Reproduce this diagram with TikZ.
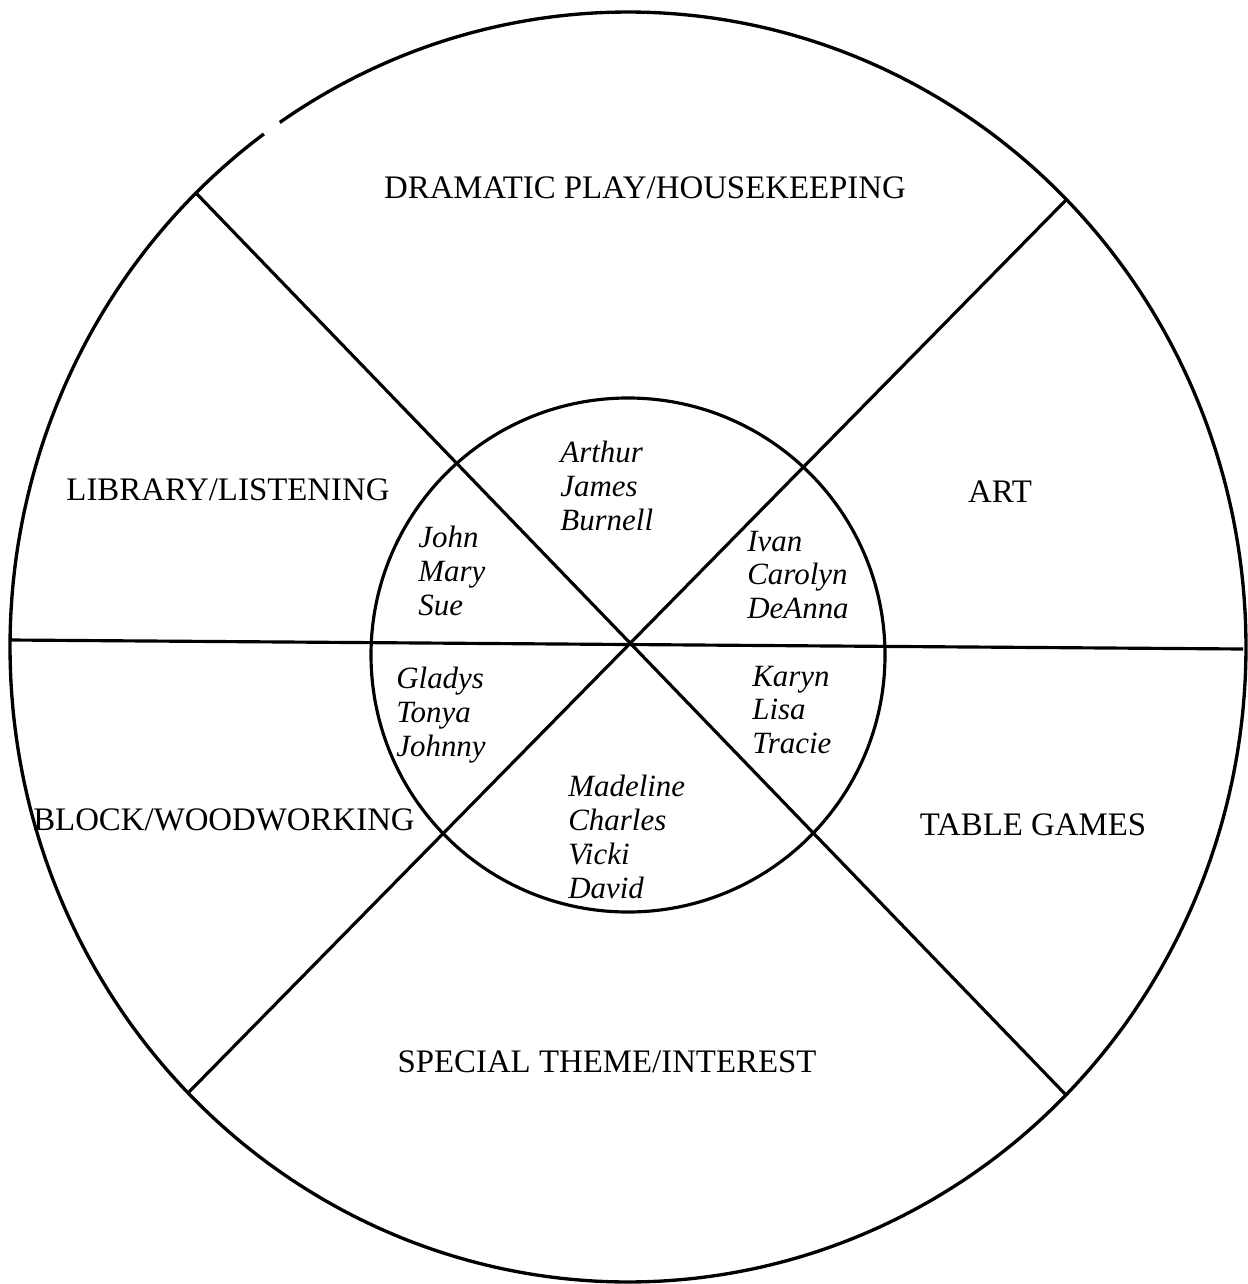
\documentclass[tikz,border=0pt]{standalone}
\usepackage{fontspec}
\setmainfont{Liberation Serif}
\begin{document}
\begin{tikzpicture}[x=0.02cm,y=-0.02cm,
  rim/.style={line width=1.9pt},
  divider/.style={line width=1.8pt},
  area/.style={inner sep=0pt,font=\fontsize{18.7}{22}\selectfont},
  names/.style={inner sep=0pt,anchor=west,align=left,font=\fontsize{17.6}{19.3}\selectfont\itshape}]
\useasboundingbox (0,0) rectangle (1247,1284);
% outer ring (with the small gap at upper left)
\draw[rim] plot[domain=-124.3:233.9,samples=240,smooth] ({628+618*cos(\x)},{647+635*sin(\x)});
% inner circle
\node[draw,circle,line width=1.8pt,minimum size=514*0.02cm,inner sep=0pt] (hub) at (628,655) {};
% spoke ends
\coordinate (tl) at (195,192);
\coordinate (br) at (1066,1095);
\coordinate (tr) at (1066,200);
\coordinate (bl) at (188,1093);
\coordinate (w) at (10,640);
\coordinate (e) at (1243,649);
\draw[divider] (tl) -- (br);
\draw[divider] (tr) -- (bl);
\draw[divider] (w) -- (e);
% area labels
\node[area] (dp) at (645,188) {DRAMATIC PLAY/HOUSEKEEPING};
\node[area] (lib) at (228,490) {LIBRARY/LISTENING};
\node[area] (art) at (1000,492) {ART};
\node[area] (blk) at (224,820) {BLOCK/WOODWORKING};
\node[area] (tg) at (1033,825) {TABLE GAMES};
\node[area] (sp) at (607,1062) {SPECIAL THEME/INTEREST};
% names
\node[names] (n1) at (560,486) {Arthur\\James\\Burnell};
\node[names] (n2) at (418,571) {John\\Mary\\Sue};
\node[names] (n3) at (747,575) {Ivan\\Carolyn\\DeAnna};
\node[names] (n4) at (396,715) {Gladys\\Tonya\\Johnny};
\node[names] (n5) at (752,710) {Karyn\\Lisa\\Tracie};
\node[names] (n6) at (568,837) {Madeline\\Charles\\Vicki\\David};
\end{tikzpicture}
\end{document}
